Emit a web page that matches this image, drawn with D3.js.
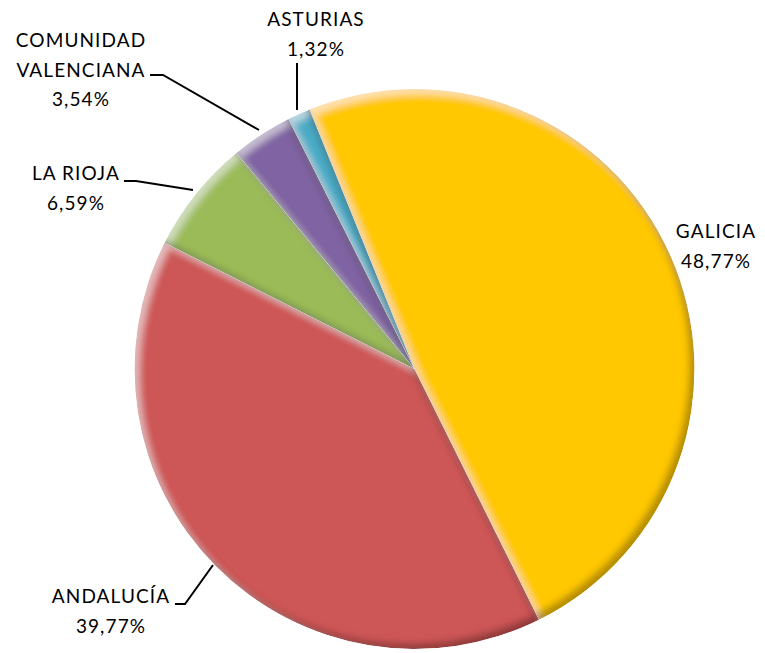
<!DOCTYPE html>
<meta charset="utf-8">
<title>Pie</title>
<style>
body {
  margin: 0;
  background: #fff;
}
text {
  font-family: Lato, "Open Sans", sans-serif;
  font-size: 19px;
  letter-spacing: 1.1px;
  fill: #000;
}
.leader {
  fill: none;
  stroke: #000;
  stroke-width: 2px;
}
</style>
<svg></svg>
<script src="https://cdn.jsdelivr.net/npm/d3@7"></script>
<script>
// data
var regions = ["GALICIA", "ANDALUCÍA", "LA RIOJA", "COMUNIDAD VALENCIANA", "ASTURIAS"];
var shares = [48.77, 39.77, 6.59, 3.54, 1.32];
var colors = ["#ffc800", "#cd5656", "#9bbb59", "#8064a2", "#4bacc6"];

// label lines of text + anchor point (center of block, baseline of first line)
var labelLines = [
  ["GALICIA"],
  ["ANDALUCÍA"],
  ["LA RIOJA"],
  ["COMUNIDAD", "VALENCIANA"],
  ["ASTURIAS"]
];
var labelPos = [[716, 238], [111, 603], [76, 180], [81, 47], [316, 26]];
var leaders = [
  null,
  [[175, 604], [185, 604], [213, 565]],
  [[124, 181], [136, 181], [193, 190]],
  [[150, 75], [163, 75], [259, 130]],
  [[297, 63], [297, 110]]
];

var width = 765, height = 653;
var cx = 414.5, cy = 369, radius = 280;
var start = -22 * Math.PI / 180;

var svg = d3.select("svg")
    .attr("width", width)
    .attr("height", height);

// bevel-ish effect: inner highlight on the top-left, dark rim on the bottom-right
var defs = svg.append("defs");
var f = defs.append("filter").attr("id", "bevel")
    .attr("x", "-5%").attr("y", "-5%").attr("width", "110%").attr("height", "110%");
f.append("feGaussianBlur").attr("in", "SourceAlpha").attr("stdDeviation", 3.5).attr("result", "blur");
f.append("feOffset").attr("in", "blur").attr("dx", -5).attr("dy", -5).attr("result", "offDark");
f.append("feComposite").attr("in", "SourceAlpha").attr("in2", "offDark").attr("operator", "out").attr("result", "rimDark");
f.append("feFlood").attr("flood-color", "#000").attr("flood-opacity", 0.55).attr("result", "black");
f.append("feComposite").attr("in", "black").attr("in2", "rimDark").attr("operator", "in").attr("result", "shadow");
f.append("feOffset").attr("in", "blur").attr("dx", 5).attr("dy", 5).attr("result", "offLight");
f.append("feComposite").attr("in", "SourceAlpha").attr("in2", "offLight").attr("operator", "out").attr("result", "rimLight");
f.append("feFlood").attr("flood-color", "#fff").attr("flood-opacity", 0.45).attr("result", "white");
f.append("feComposite").attr("in", "white").attr("in2", "rimLight").attr("operator", "in").attr("result", "light");
var m = f.append("feMerge");
m.append("feMergeNode").attr("in", "SourceGraphic");
m.append("feMergeNode").attr("in", "light");
m.append("feMergeNode").attr("in", "shadow");
f.append("feComposite").attr("in2", "SourceAlpha").attr("operator", "in");

var pie = d3.pie()
    .sort(null)
    .startAngle(start)
    .endAngle(start + 2 * Math.PI)
    .value(function(d) { return d; });

var arc = d3.arc()
    .innerRadius(0)
    .outerRadius(radius);

var arcs = pie(shares);

svg.append("g")
    .attr("transform", "translate(" + cx + "," + cy + ")")
  .selectAll("path")
  .data(arcs)
  .enter().append("path")
    .attr("d", arc)
    .attr("fill", function(d, i) { return colors[i]; })
    .attr("filter", "url(#bevel)");

var line = d3.line();
svg.append("g").selectAll("path")
  .data(leaders.filter(function(d) { return d; }))
  .enter().append("path")
    .attr("class", "leader")
    .attr("d", line);

var fmt = function(v) { return d3.format(".2f")(v).replace(".", ",") + "%"; };

var labels = svg.append("g").selectAll("text")
  .data(regions)
  .enter().append("text")
    .attr("text-anchor", "middle")
    .attr("x", function(d, i) { return labelPos[i][0]; })
    .attr("y", function(d, i) { return labelPos[i][1]; });

labels.each(function(d, i) {
  var t = d3.select(this);
  var lines = labelLines[i].concat([fmt(shares[i])]);
  lines.forEach(function(s, j) {
    t.append("tspan")
        .attr("x", labelPos[i][0])
        .attr("dy", j === 0 ? 0 : 29.5)
        .text(s);
  });
});
</script>
